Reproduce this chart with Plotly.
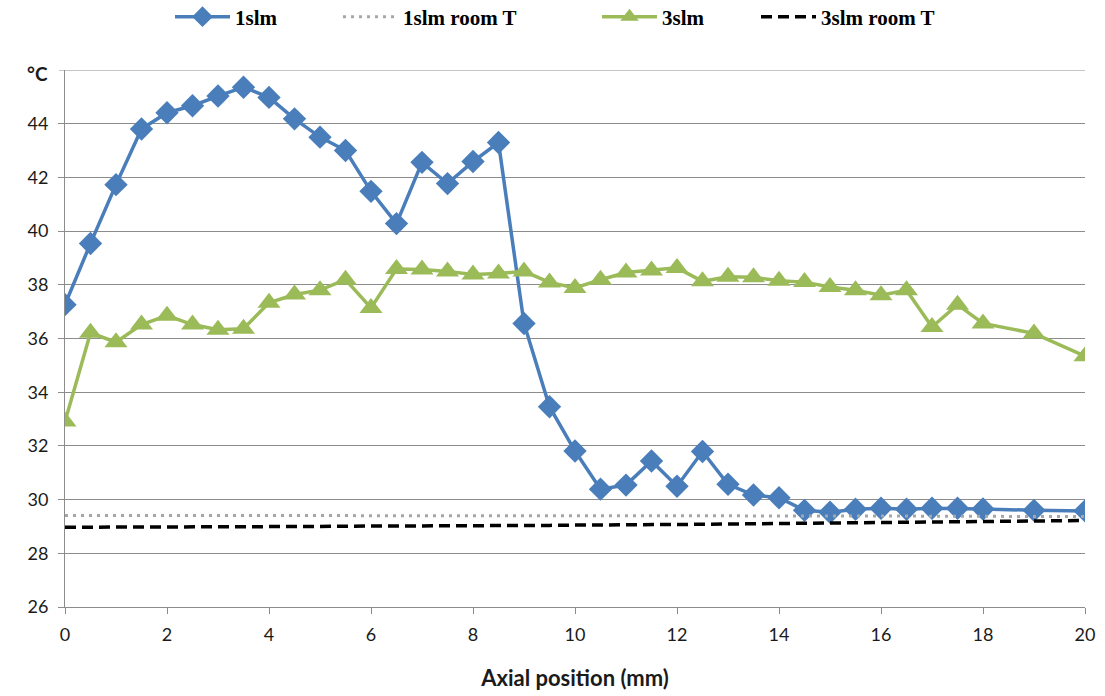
import plotly.graph_objects as go

x_pos = [0, 0.5, 1, 1.5, 2, 2.5, 3, 3.5, 4, 4.5, 5, 5.5, 6, 6.5, 7, 7.5, 8, 8.5, 9, 9.5,
         10, 10.5, 11, 11.5, 12, 12.5, 13, 13.5, 14, 14.5, 15, 15.5, 16, 16.5, 17, 17.5, 18, 19, 20]

t_1slm = [37.26, 39.54, 41.73, 43.80, 44.41, 44.67, 45.03, 45.36, 44.98, 44.18, 43.50, 43.00,
          41.48, 40.28, 42.56, 41.77, 42.59, 43.30, 36.56, 33.46, 31.81, 30.39, 30.54, 31.44,
          30.50, 31.79, 30.57, 30.17, 30.07, 29.60, 29.53, 29.64, 29.68, 29.64, 29.68, 29.68,
          29.65, 29.60, 29.58]

t_1slm_room = [29.41, 29.41, 29.41, 29.41, 29.41, 29.41, 29.40, 29.40, 29.40, 29.40,
               29.40, 29.40, 29.40, 29.40, 29.40, 29.40, 29.40, 29.40, 29.40, 29.40,
               29.40, 29.40, 29.40, 29.40, 29.40, 29.40, 29.40, 29.40, 29.39, 29.39,
               29.39, 29.39, 29.39, 29.39, 29.38, 29.38, 29.38, 29.38, 29.37]

t_3slm = [32.91, 36.21, 35.86, 36.52, 36.85, 36.52, 36.33, 36.36, 37.33, 37.64, 37.80, 38.19,
          37.14, 38.59, 38.57, 38.50, 38.38, 38.42, 38.50, 38.09, 37.88, 38.19, 38.46, 38.53,
          38.63, 38.13, 38.30, 38.28, 38.15, 38.10, 37.92, 37.80, 37.61, 37.80, 36.43, 37.26,
          36.56, 36.19, 35.34]

t_3slm_room = [28.97, 28.97, 28.97, 28.98, 28.98, 28.98, 28.99, 28.99, 29.00, 29.00, 29.00, 29.01,
               29.01, 29.01, 29.02, 29.02, 29.03, 29.03, 29.04, 29.04, 29.05, 29.05, 29.06, 29.06,
               29.07, 29.08, 29.09, 29.10, 29.10, 29.11, 29.12, 29.13, 29.14, 29.15, 29.16, 29.17,
               29.18, 29.20, 29.22]

x_ticks = [0, 2, 4, 6, 8, 10, 12, 14, 16, 18, 20]
y_ticks = [26, 28, 30, 32, 34, 36, 38, 40, 42, 44]

BLUE = "#4A7EBB"
GREEN = "#9BBB59"
GRAY = "#A6A6A6"
GRID = "#8C8C8C"
TXT = "#1a1a1a"

fig = go.Figure()
fig.add_trace(go.Scatter(
    x=x_pos, y=t_1slm, name="1slm", mode="lines+markers",
    line=dict(color=BLUE, width=3.5),
    marker=dict(symbol="diamond", size=18, color=BLUE),
    legend="legend"))
fig.add_trace(go.Scatter(
    x=x_pos, y=t_1slm_room, name="1slm room T", mode="lines",
    line=dict(color=GRAY, width=3, dash="3px,5px"),
    legend="legend2"))
fig.add_trace(go.Scatter(
    x=x_pos, y=t_3slm, name="3slm", mode="lines+markers",
    line=dict(color=GREEN, width=3.5),
    marker=dict(symbol="triangle-up", size=20, color=GREEN),
    legend="legend3"))
fig.add_trace(go.Scatter(
    x=x_pos, y=t_3slm_room, name="3slm room T", mode="lines",
    line=dict(color="black", width=3.5, dash="11px,6px"),
    legend="legend4"))

L, R, T, B = 65, 20, 70, 89
W, H = 1105, 696
pw, ph = W - L - R, H - T - B


def px_x(p):
    return (p - L) / pw


def px_y(p):
    return (ph - (p - T)) / ph


leg_font = dict(family="Liberation Serif", size=21, color="black", weight="bold")
common_leg = dict(orientation="h", yanchor="middle", xanchor="left", font=leg_font,
                  bgcolor="rgba(0,0,0,0)", itemwidth=55, tracegroupgap=0)
ly = px_y(17)

fig.update_layout(
    width=W, height=H,
    margin=dict(l=L, r=R, t=T, b=B, autoexpand=False),
    plot_bgcolor="white", paper_bgcolor="white",
    font=dict(family="Lato", size=18, color=TXT),
    xaxis=dict(range=[0, 20], tickvals=x_ticks, showgrid=False, zeroline=False,
               showline=True, linecolor=GRID, linewidth=1,
               ticks="outside", ticklen=6, tickcolor=GRID, ticklabelstandoff=5,
               tickfont=dict(family="Lato", size=18, color=TXT),
               title=dict(text="<b>Axial position (mm)</b>",
                          font=dict(family="Lato", size=22, color=TXT), standoff=27)),
    yaxis=dict(range=[26, 46], tickvals=y_ticks, showgrid=True, gridcolor=GRID, gridwidth=1,
               zeroline=False, showline=True, linecolor=GRID, linewidth=1,
               ticks="outside", ticklen=6, tickcolor=GRID, ticklabelstandoff=6,
               tickfont=dict(family="Lato", size=18, color=TXT)),
    legend=dict(common_leg, x=px_x(170), y=ly),
    legend2=dict(common_leg, x=px_x(338), y=ly),
    legend3=dict(common_leg, x=px_x(597), y=ly),
    legend4=dict(common_leg, x=px_x(756), y=ly),
    showlegend=True,
)

# top gridline at 46 (not labelled)
fig.add_shape(type="line", xref="paper", yref="y", x0=0, x1=1, y0=46, y1=46,
              line=dict(color=GRID, width=1), layer="below")
fig.add_shape(type="line", xref="paper", yref="y", x0=-6 / pw, x1=0, y0=46, y1=46,
              line=dict(color=GRID, width=1), layer="below")

fig.add_annotation(text="<b>°C</b>", xref="paper", yref="paper",
                   x=px_x(37), y=px_y(73), showarrow=False,
                   font=dict(family="Lato", size=19, color=TXT),
                   xanchor="center", yanchor="middle")

fig.write_html("out.html")
